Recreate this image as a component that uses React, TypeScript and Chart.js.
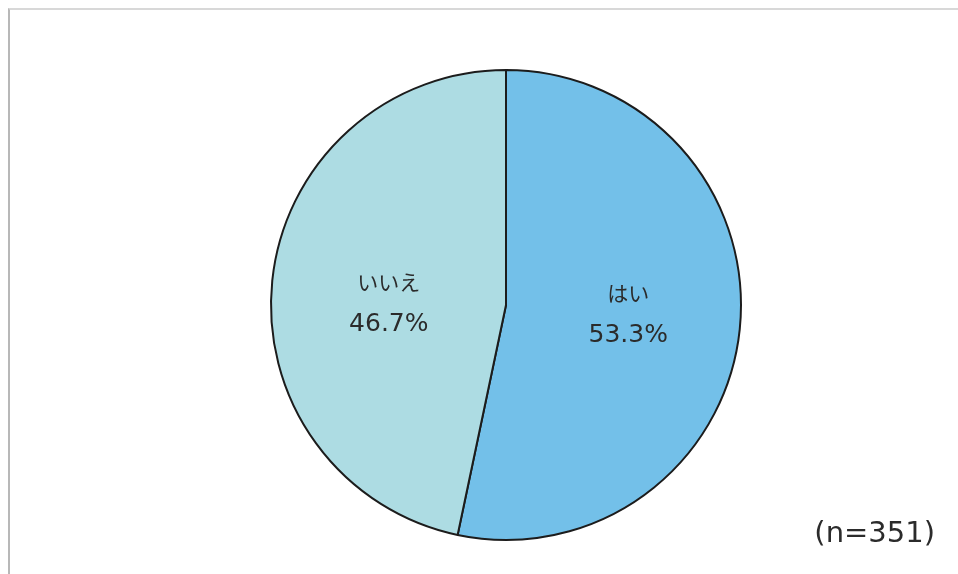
import React, { useEffect, useRef } from "react";
import { Chart, registerables } from "chart.js";

Chart.register(...registerables);

const categories = ["はい", "いいえ"];
const values = [53.3, 46.7];
const valueLabels = ["53.3%", "46.7%"];
const sliceColors = ["#73C0E9", "#ADDCE3"];
const sampleNote = "(n=351)";

const labelPlugin = {
  id: "sliceLabels",
  afterDatasetsDraw(chart: any, _args: any, opts: any) {
    const { ctx } = chart;
    const meta = chart.getDatasetMeta(0);
    const nudges = (opts && opts.nudges) || [];
    meta.data.forEach((arc: any, i: number) => {
      const { startAngle, endAngle, outerRadius, x, y } = arc.getProps(
        ["startAngle", "endAngle", "outerRadius", "x", "y"],
        true
      );
      const mid = (startAngle + endAngle) / 2;
      const d = outerRadius * 0.51;
      const n = nudges[i] || [0, 0];
      const cx = x + Math.cos(mid) * d + n[0];
      const cy = y + Math.sin(mid) * d + n[1];
      ctx.save();
      ctx.fillStyle = "#2b2b2b";
      ctx.textAlign = "center";
      ctx.textBaseline = "middle";
      ctx.font = "21px 'DejaVu Sans', 'Noto Sans CJK JP', sans-serif";
      ctx.fillText(categories[i], cx, cy - 20);
      ctx.font = "25px 'DejaVu Sans', 'Noto Sans CJK JP', sans-serif";
      ctx.fillText(valueLabels[i], cx, cy + 20);
      ctx.restore();
    });
  },
};

export default function App() {
  const canvasRef = useRef<HTMLCanvasElement | null>(null);

  useEffect(() => {
    if (!canvasRef.current) return;
    const chart = new Chart(canvasRef.current, {
      type: "pie",
      data: {
        labels: categories,
        datasets: [
          {
            data: values,
            backgroundColor: sliceColors,
            borderColor: "#1c1c1c",
            borderWidth: 2,
          },
        ],
      },
      options: {
        animation: false,
        responsive: false,
        maintainAspectRatio: false,
        radius: 235,
        layout: { padding: { left: 54, right: 0, top: 36, bottom: 0 } },
        plugins: {
          legend: { display: false },
          tooltip: { enabled: false },
          sliceLabels: { nudges: [[3, -2], [2, 12]] },
        },
      } as any,
      plugins: [labelPlugin],
    });
    return () => chart.destroy();
  }, []);

  return (
    <div
      style={{
        position: "fixed",
        left: 0,
        top: 0,
        width: 958,
        height: 574,
        background: "#ffffff",
        overflow: "hidden",
      }}
    >
      <div
        style={{
          position: "absolute",
          left: 8,
          top: 8,
          width: 960,
          height: 580,
          borderTop: "2px solid #d8d8d8",
          borderLeft: "2px solid #b8b8b8",
          boxSizing: "border-box",
        }}
      />
      <canvas
        ref={canvasRef}
        width={958}
        height={574}
        style={{ position: "absolute", left: 0, top: 0, width: 958, height: 574 }}
      />
      <div
        style={{
          position: "absolute",
          right: 23,
          top: 513,
          fontFamily: "'DejaVu Sans', sans-serif",
          fontSize: 29,
          lineHeight: "38px",
          color: "#2b2b2b",
        }}
      >
        {sampleNote}
      </div>
    </div>
  );
}
